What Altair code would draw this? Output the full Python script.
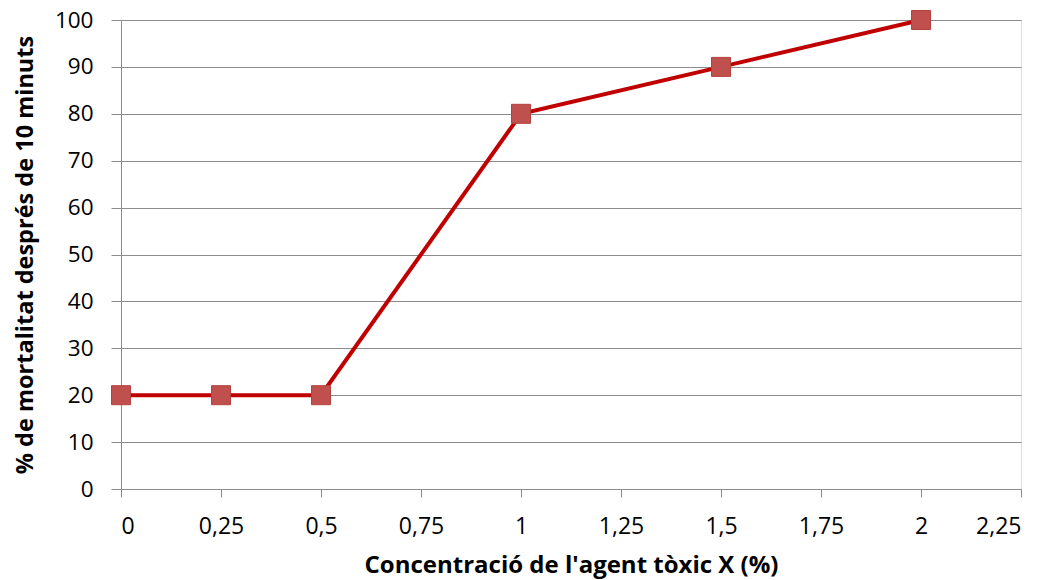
import altair as alt
import pandas as pd

concentration = [0, 0.25, 0.5, 1, 1.5, 2]
mortality = [20, 20, 20, 80, 90, 100]
x_ticks = [0, 0.25, 0.5, 0.75, 1, 1.25, 1.5, 1.75, 2, 2.25]
y_ticks = [0, 10, 20, 30, 40, 50, 60, 70, 80, 90, 100]

df = pd.DataFrame({"x": concentration, "y": mortality})

FONT = "Open Sans"
GRID = "#8c8c8c"

x_enc = alt.X(
    "x:Q",
    scale=alt.Scale(domain=[0, 2.25], nice=False, zero=False),
    axis=alt.Axis(
        values=x_ticks,
        labelExpr="replace(format(datum.value, '.2~f'), '.', ',')",
        title="Concentració de l'agent tòxic X (%)",
        grid=False,
        tickSize=8,
        tickColor=GRID,
        domainColor=GRID,
        labelFont=FONT,
        labelFontSize=23,
        labelColor="#000000",
        labelPadding=18,
        titleFont=FONT,
        titleFontSize=24,
        titleFontWeight="bold",
        titleColor="#000000",
        titlePadding=15,
    ),
)
y_enc = alt.Y(
    "y:Q",
    scale=alt.Scale(domain=[0, 100], nice=False),
    axis=alt.Axis(
        values=y_ticks,
        title="% de mortalitat després de 10 minuts",
        grid=True,
        gridColor=GRID,
        gridWidth=1,
        tickSize=10,
        tickColor=GRID,
        domainColor=GRID,
        labelFont=FONT,
        labelFontSize=22.5,
        labelColor="#000000",
        labelPadding=18,
        titleFont=FONT,
        titleFontSize=23.5,
        titleFontWeight="bold",
        titleColor="#000000",
        titlePadding=17,
    ),
)

line = alt.Chart(df).mark_line(color="#C00000", strokeWidth=4).encode(x=x_enc, y=y_enc)
points = alt.Chart(df).mark_point(
    shape="square", filled=True, size=361, color="#C0504D", opacity=1,
    stroke="#B5413E", strokeWidth=1,
).encode(x="x:Q", y="y:Q")

chart = (
    (line + points)
    .properties(
        width=900,
        height=469,
        autosize=alt.AutoSizeParams(type="none"),
        padding={"left": 113, "top": 12, "right": 24, "bottom": 110},
    )
    .configure_view(stroke=None)
    .configure(background="#ffffff")
)

chart.save("out.html", embed_options={"renderer": "svg", "actions": False})
